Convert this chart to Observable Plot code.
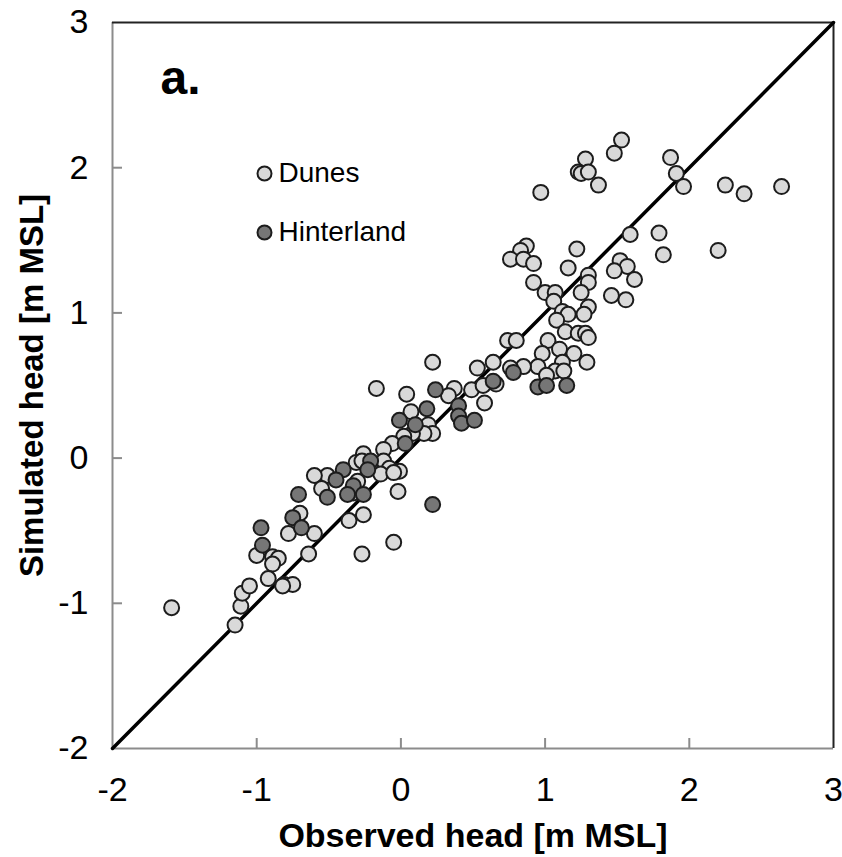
<!DOCTYPE html>
<html>
<head>
<meta charset="utf-8">
<script src="https://cdn.jsdelivr.net/npm/d3@7"></script>
<script src="https://cdn.jsdelivr.net/npm/@observablehq/plot@0.6"></script>
<style>
  html, body { margin: 0; padding: 0; background: #ffffff; }
  #chart { width: 842px; height: 857px; }
</style>
</head>
<body>
<div id="chart"></div>
<script>
// Axis ticks
const xTicks = [-2, -1, 0, 1, 2, 3];
const yTicks = [-2, -1, 0, 1, 2, 3];

// Series names
const seriesNames = ["Dunes", "Hinterland"];

// Dunes: observed vs simulated head [m MSL]
const dunesObserved = [
  1.53, 1.48, 1.28, 1.23, 1.25, 1.30, 1.37, 1.87, 1.91, 1.96, 2.25, 2.38, 2.64, 0.97,
  1.59, 1.79, 1.82, 2.20, 1.52, 1.57, 1.48, 1.62, 1.46, 1.56, 0.87, 0.83, 0.76, 0.85,
  0.92, 1.22, 1.16, 1.30, 1.30, 0.92, 1.00, 1.07, 1.25, 1.06, 1.12, 1.16, 1.30, 1.27,
  1.08, 1.14, 1.23, 1.28, 1.30, 1.02, 0.74, 0.80, 1.10, 0.98, 1.20, 1.29, 1.12, 0.95,
  0.85, 0.76, 1.07, 1.13, 1.01, 0.64, 0.53, 0.22, 0.66, 0.49, 0.37, 0.57, 0.58, 0.04,
  -0.17, 0.33, 0.07, 0.19, 0.22, 0.16, 0.08, 0.02, -0.06, -0.12, -0.26, -0.12, -0.01, -0.08,
  -0.31, -0.27, -0.14, -0.05, -0.51, -0.60, -0.55, -0.30, -0.33, -0.02, -0.70, -0.78, -0.60, -0.36,
  -0.26, -0.05, -0.27, -0.64, -0.81, -0.75, -1.59, -1.15, -1.11, -1.10, -1.05, -1.00, -0.89, -0.85,
  -0.89, -0.92, -0.82
];
const dunesSimulated = [
  2.19, 2.10, 2.06, 1.97, 1.96, 1.97, 1.88, 2.07, 1.96, 1.87, 1.88, 1.82, 1.87, 1.83,
  1.54, 1.55, 1.40, 1.43, 1.36, 1.32, 1.29, 1.23, 1.12, 1.09, 1.46, 1.43, 1.37, 1.37,
  1.34, 1.44, 1.31, 1.26, 1.21, 1.21, 1.14, 1.14, 1.14, 1.08, 1.01, 0.99, 1.04, 0.99,
  0.95, 0.87, 0.86, 0.86, 0.83, 0.81, 0.81, 0.81, 0.75, 0.72, 0.72, 0.66, 0.66, 0.63,
  0.63, 0.62, 0.60, 0.60, 0.57, 0.66, 0.62, 0.66, 0.51, 0.47, 0.48, 0.50, 0.38, 0.44,
  0.48, 0.43, 0.32, 0.23, 0.17, 0.17, 0.17, 0.15, 0.10, 0.06, 0.03, -0.02, -0.09, -0.07,
  -0.03, -0.02, -0.11, -0.10, -0.12, -0.12, -0.21, -0.16, -0.24, -0.23, -0.38, -0.52, -0.52, -0.43,
  -0.39, -0.58, -0.66, -0.66, -0.87, -0.87, -1.03, -1.15, -1.02, -0.93, -0.88, -0.67, -0.68, -0.69,
  -0.73, -0.83, -0.88
];

// Hinterland: observed vs simulated head [m MSL]
const hinterlandObserved = [
  0.78, 0.64, 0.95, 1.01, 1.15, 0.24, 0.18, 0.40, 0.40, 0.42, 0.51, -0.01, 0.10, 0.03,
  -0.21, -0.23, -0.40, -0.45, -0.33, -0.37, -0.26, -0.51, -0.71, -0.75, -0.69, 0.22, -0.97, -0.96
];
const hinterlandSimulated = [
  0.59, 0.53, 0.49, 0.50, 0.50, 0.47, 0.34, 0.36, 0.29, 0.24, 0.26, 0.26, 0.23, 0.10,
  -0.02, -0.08, -0.08, -0.15, -0.19, -0.25, -0.25, -0.27, -0.25, -0.41, -0.48, -0.32, -0.48, -0.60
];

const dunes = dunesObserved.map((x, i) => ({x, y: dunesSimulated[i]}));
const hinterland = hinterlandObserved.map((x, i) => ({x, y: hinterlandSimulated[i]}));
const oneToOne = [{x: -2, y: -2}, {x: 3, y: 3}];

const W = 842, H = 857, ML = 112, MR = 9, MT = 22, MB = 109;
const plotW = W - ML - MR, plotH = H - MT - MB;
const font = "'Liberation Sans', Arial, Helvetica, sans-serif";
const lightFill = "#d9d9d9", darkFill = "#767676", ptStroke = "#1c1c1c";

const chart = Plot.plot({
  width: W,
  height: H,
  marginLeft: ML,
  marginRight: MR,
  marginTop: MT,
  marginBottom: MB,
  style: {fontFamily: font, background: "#ffffff", color: "#000"},
  x: {domain: [-2, 3]},
  y: {domain: [-2, 3]},
  marks: [
    // inward ticks
    Plot.tickX(xTicks.slice(1, -1), {x: d => d, stroke: "#8c8c8c", strokeWidth: 2, insetTop: plotH - 10}),
    Plot.tickY(yTicks.slice(1, -1), {y: d => d, stroke: "#8c8c8c", strokeWidth: 2, insetRight: plotW - 10}),
    // frame: grey left/bottom, dark top/right
    Plot.ruleX([-2], {stroke: "#8c8c8c", strokeWidth: 2}),
    Plot.ruleY([-2], {stroke: "#8c8c8c", strokeWidth: 2}),
    Plot.ruleX([3], {stroke: "#222", strokeWidth: 2}),
    Plot.ruleY([3], {stroke: "#222", strokeWidth: 2}),
    // 1:1 line
    Plot.line(oneToOne, {x: "x", y: "y", stroke: "#000", strokeWidth: 3.5}),
    // points
    Plot.dot(dunes, {x: "x", y: "y", r: 7.5, fill: lightFill, stroke: ptStroke, strokeWidth: 2}),
    Plot.dot(hinterland, {x: "x", y: "y", r: 7.5, fill: darkFill, stroke: ptStroke, strokeWidth: 2}),
    // axes
    Plot.axisX(xTicks, {tickSize: 0, tickPadding: 28, fontSize: 34, label: null, tickFormat: d => String(d), fill: "#000"}),
    Plot.axisY(yTicks, {tickSize: 0, tickPadding: 24, fontSize: 34, label: null, tickFormat: d => String(d), fill: "#000"}),
    // axis titles
    Plot.text(["Observed head [m MSL]"], {frameAnchor: "bottom", dy: 88, lineAnchor: "middle", textAnchor: "middle", fontSize: 34, fontWeight: "bold", fill: "#000"}),
    Plot.text(["Simulated head [m MSL]"], {frameAnchor: "left", dx: -80, rotate: -90, lineAnchor: "middle", textAnchor: "middle", fontSize: 33, fontWeight: "bold", fill: "#000"}),
    // panel label
    Plot.text(["a."], {frameAnchor: "top-left", dx: 48, dy: 71, lineAnchor: "bottom", textAnchor: "start", fontSize: 48, fontWeight: "bold", fill: "#000"}),
    // legend
    Plot.dot([seriesNames[0]], {frameAnchor: "top-left", dx: 152, dy: 151, r: 7, fill: lightFill, stroke: ptStroke, strokeWidth: 2}),
    Plot.dot([seriesNames[1]], {frameAnchor: "top-left", dx: 152, dy: 210, r: 7, fill: darkFill, stroke: ptStroke, strokeWidth: 2}),
    Plot.text([seriesNames[0]], {frameAnchor: "top-left", dx: 166, dy: 151, text: d => d, textAnchor: "start", lineAnchor: "middle", fontSize: 28, fill: "#000"}),
    Plot.text([seriesNames[1]], {frameAnchor: "top-left", dx: 166, dy: 210, text: d => d, textAnchor: "start", lineAnchor: "middle", fontSize: 28, fill: "#000"})
  ]
});
document.getElementById("chart").appendChild(chart);
</script>
</body>
</html>
